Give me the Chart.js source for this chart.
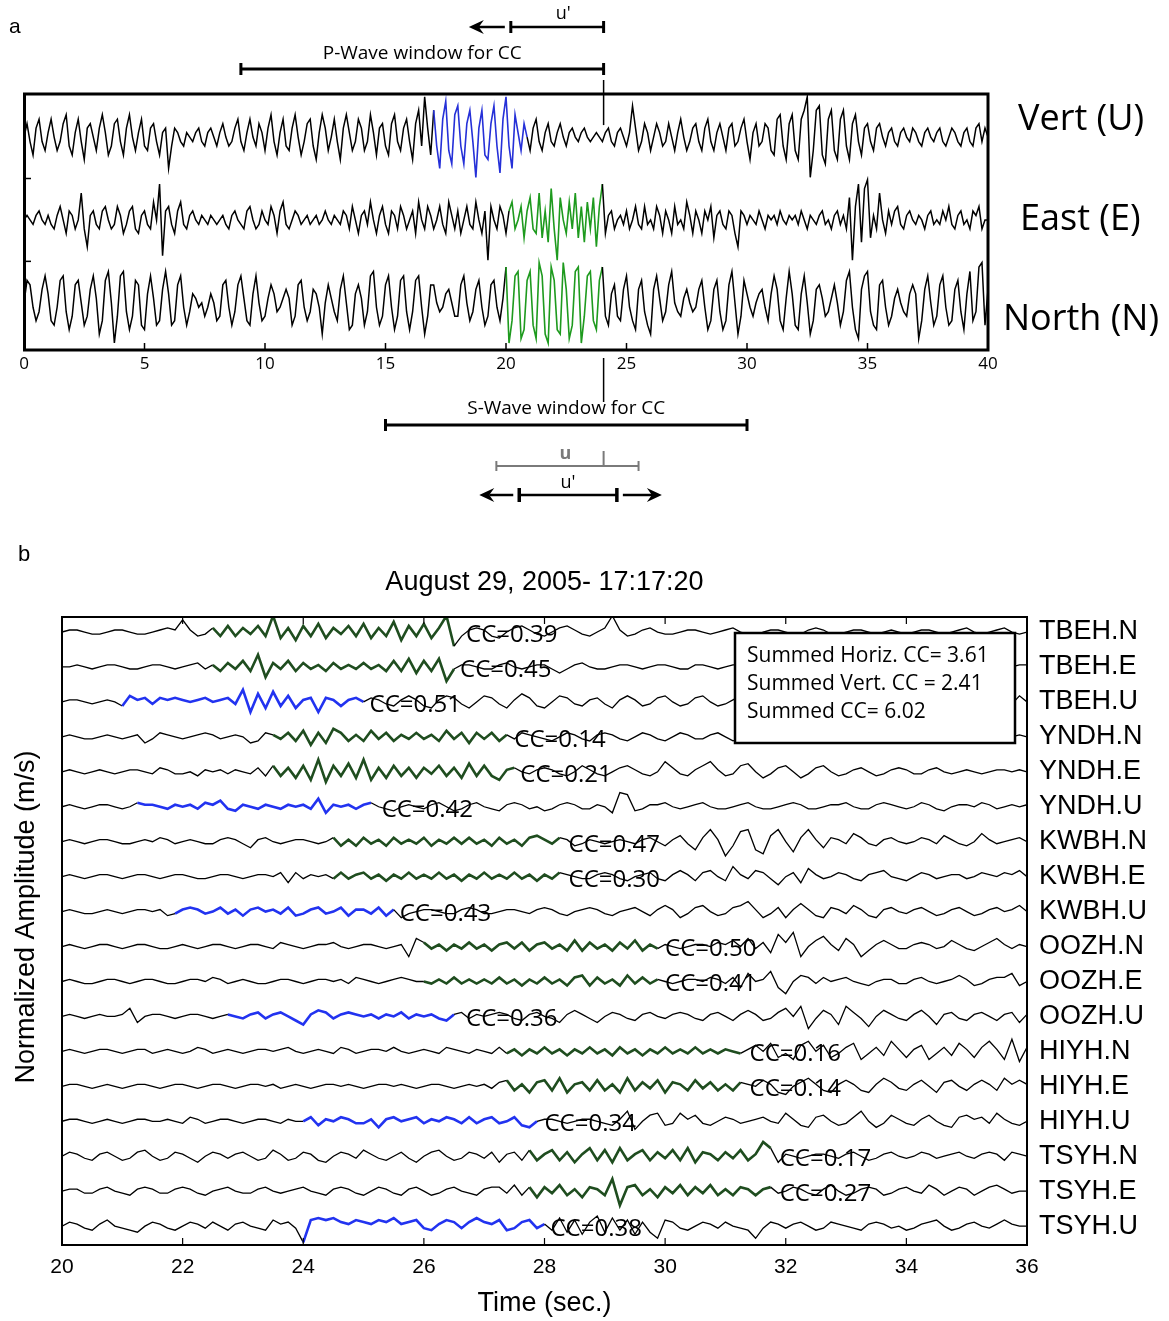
<!DOCTYPE html>
<html><head><meta charset="utf-8">
<script src="https://cdn.jsdelivr.net/npm/chart.js@4"></script>
<style>
body{margin:0;background:#fff;width:1169px;height:1321px;overflow:hidden;position:relative}
canvas{position:absolute;left:0}
</style></head>
<body>
<canvas id="ca" width="1169" height="530" style="top:0"></canvas>
<canvas id="cb" width="1169" height="791" style="top:530px"></canvas>
<script>
// ---------------- Panel a data (0..40 s, 0.125 s samples) ----------------
const aTicks = [0,5,10,15,20,25,30,35,40];
const aComponents = ['Vert (U)','East (E)','North (N)'];
const aWinStart = [17.0, 20.05, 20.0];
const aWinEnd = [20.9, 24.05, 24.05];
const aWinColor = ['#2530d8','#1e9a1e','#1e9a1e'];
const pWave = [9.0, 24.05];
const sWave = [15.0, 30.0];
const uGray = [19.6, 25.5];
const uPrimeBottom = [20.55, 24.6];
const uPrimeTop = [20.2, 24.05];
const pickTime = 24.05;
const vertU = [
0,3,-1,-4,2,4,-1,-3,
1,4,0,-3,-1,3,5,-2,
-4,1,4,-1,-5,2,3,0,
-3,2,5,1,-4,-2,3,4,
-1,-4,2,5,0,-3,1,4,
-2,-3,2,3,-1,-4,1,2,
-7,-2,2,1,-1,-2,1,0,
-1,1,2,-1,-2,1,2,0,
-2,1,3,0,-2,-1,2,4,
-1,-3,1,4,0,-2,3,1,
-3,2,5,-1,-4,1,4,-2,
-3,2,5,0,-4,-1,3,4,
-2,-5,1,5,2,-3,0,4,
-1,-5,2,5,1,-3,-1,4,
2,-3,-1,5,1,-4,2,3,
-2,-4,3,5,-1,-3,2,4,
-1,-5,3,6,-2,9,2,-4,
6,-2,-7,4,8,-3,-6,5,
7,-2,-6,3,6,-1,-9,2,
6,-4,-5,3,7,-2,-8,4,
9,-2,-7,5,1,-3,3,0,
-3,2,4,-1,-3,1,3,-1,
-2,1,3,0,-2,1,2,0,
-1,1,2,0,-1,0,1,0,
-1,1,2,-1,-2,1,2,0,
-2,1,7,2,-3,-1,3,1,
-3,0,3,1,-2,-1,3,0,
-3,1,4,0,-3,-1,2,3,
-1,-3,2,4,-1,-3,1,3,
0,-3,2,3,-2,-1,2,4,
-1,-5,1,3,-2,-1,3,2,
-3,-4,4,5,-2,-5,3,5,
-3,-5,4,6,9,-9,-3,6,
7,-4,-6,4,6,-3,-5,4,
6,-2,-5,3,5,-1,-4,2,
3,-1,-3,2,3,0,-2,1,
2,-1,-2,1,2,0,-1,2,
1,-1,-2,1,2,0,-1,1,
2,-1,-2,0,2,1,-1,-2,
1,2,-1,-2,2,3,-1,2,
0];
const eastE = [
0,1,0,-1,1,2,0,-1,
1,-1,-2,1,3,0,-3,2,
1,-2,0,6,-2,-6,1,2,
-1,-2,2,3,0,-2,-1,3,
1,-3,-1,2,3,-2,-3,1,
2,-1,-2,4,0,8,-8,2,
3,-1,-3,2,4,-1,-2,1,
2,0,-1,1,0,-1,1,0,
-1,0,1,-1,-2,1,2,0,
-1,-2,2,3,0,-2,-1,2,
0,-1,3,1,-3,2,4,-1,
-2,0,2,1,-1,0,1,-1,
0,1,-1,0,2,0,-1,1,
0,-1,2,1,-2,3,0,-3,
1,2,-1,4,0,-3,1,3,
-1,-3,2,1,-2,3,1,-2,
0,2,-3,4,0,-2,3,1,
-2,0,3,-1,-3,4,1,-2,
2,-3,0,3,-1,-2,4,0,
-3,2,-9,3,0,-2,3,1,
-3,2,4,-2,0,3,-4,2,
5,-2,-3,6,-4,2,-5,7,
-2,-9,5,0,-3,4,-2,6,
-4,3,-5,4,-2,5,-6,3,
8,-3,1,2,-2,0,1,-1,
2,-2,0,3,-1,-2,3,-1,
0,-2,3,1,-3,2,0,-3,
3,-1,0,-2,4,1,-3,2,
0,-3,2,0,3,-4,1,2,
-1,-2,2,1,-3,-6,2,1,
-1,1,0,-1,2,0,-2,1,
0,1,-1,2,0,-1,1,0,
1,-1,2,0,-2,1,0,-1,
1,2,-1,0,-2,1,2,-1,
1,-2,5,-9,3,8,-5,7,
9,-4,1,-2,6,0,-3,2,
-1,2,3,-1,-2,1,2,0,
-1,1,0,-2,1,2,-1,0,
-1,2,0,3,-1,-2,1,2,
-1,0,-2,2,1,3,-2,0,
0];
const northN = [
0,5,4,-1,-4,-2,3,6,
2,-4,-5,-1,5,6,-2,-6,
-3,4,5,0,-5,-3,3,6,
1,-7,-4,5,7,0,-9,-3,
6,7,-2,-6,-3,5,4,-5,
-6,2,6,1,-5,-4,3,7,
2,-5,-4,4,6,-1,-5,-2,
2,1,-1,0,-3,-1,2,0,
-4,-3,4,5,-1,-5,-2,4,
6,1,-4,-5,2,6,0,-4,
-3,1,4,2,-2,-1,1,3,
1,-5,-3,4,5,-1,-4,-2,
3,2,-1,-7,0,4,1,-2,
-4,3,6,0,-6,-5,2,4,
1,-5,-2,6,7,-1,-5,-3,
4,6,-1,-6,-3,5,6,-2,
-6,-2,5,6,-1,-7,-3,4,
4,0,-2,-1,2,3,0,-3,
-3,4,6,0,-4,-2,3,5,
-1,-5,-3,4,5,-1,-4,1,
8,-9,-4,6,7,-8,-6,5,
7,-5,-8,9,6,-7,-9,8,
5,-6,-7,9,3,-8,-5,7,
8,-9,-3,6,7,-4,-6,5,
8,-3,-5,2,4,-3,-4,3,
6,-1,-4,-6,3,5,-2,-5,
-7,3,6,1,-4,-2,4,7,
0,-2,-3,1,3,0,-2,-1,
3,5,-1,-6,-4,3,5,-2,
-6,-4,4,7,0,-7,-3,5,
2,-1,-3,0,2,3,-1,-4,
2,6,3,-4,-6,1,7,2,
-5,-6,2,6,0,-7,-4,3,
4,1,-3,-2,1,4,0,-5,
-2,5,7,-1,-6,-8,3,6,
7,-2,-5,-6,4,5,-1,-5,
-3,1,3,0,-2,-3,2,4,
2,-8,-4,3,6,0,-5,-3,
4,6,-1,-5,-4,3,5,-2,
-6,2,7,-4,-2,8,9,-5,
3];
const aTraces = [vertU, eastE, northN];

// ---------------- Panel b data (20..36 s, 0.125 s samples) ----------------
const bTitle = 'August 29, 2005- 17:17:20';
const bTicks = [20,22,24,26,28,30,32,34,36];
const stations = ['TBEH.N','TBEH.E','TBEH.U','YNDH.N','YNDH.E','YNDH.U','KWBH.N','KWBH.E','KWBH.U','OOZH.N','OOZH.E','OOZH.U','HIYH.N','HIYH.E','HIYH.U','TSYH.N','TSYH.E','TSYH.U'];
const ccValues = [0.39,0.45,0.51,0.14,0.21,0.42,0.47,0.30,0.43,0.50,0.41,0.36,0.16,0.14,0.34,0.17,0.27,0.38];
const winStart = [22.5,22.5,21.0,23.5,23.5,21.2,24.5,24.5,21.8,26.0,26.0,22.7,27.3,27.3,24.0,27.7,27.7,24.0];
const winEnd = [26.6,26.5,25.0,27.4,27.5,25.2,28.3,28.3,25.5,29.9,29.9,26.6,31.3,31.3,27.9,31.8,31.8,28.0];
const summedHoriz = 3.61, summedVert = 2.41, summedTotal = 6.02;
const tbehN = [0,1,1,0,-1,-1,0,1, 1,0,-1,-1,0,1,2,1, 6,1,-2,-1,2,-2,3,-2, 2,-1,3,-2,8,-3,2,-4, 3,-2,4,-3,2,-1,3,-2, 4,-3,2,-2,5,-4,3,-2, 4,-3,2,8,-7,-2,1,2, 1,-2,-3,0,2,3,1,-1, -2,0,2,3,1,-1,-2,0, 2,8,1,-2,-1,1,2,0, -1,-1,0,1,1,0,-1,0, 1,2,0,-1,-2,0,1,1, 0,-1,-1,1,2,1,-1,-1, 0,1,1,0,-1,0,1,0, -1,0,1,1,0,-1,0,1, 2,0,-1,0,1,2,0,-1, 0];
const tbehE = [0,0,1,0,-1,0,1,1, 0,-1,-1,0,1,1,0,-1, 0,1,2,-1,1,-2,2,-1, 3,-2,6,-5,2,-1,3,-2, 2,-1,1,-2,2,-1,1,-1, 2,-1,1,-2,3,-2,4,-3, 3,-2,4,-7,-1,1,1,0, -1,-1,1,2,0,-1,0,1, 1,-1,-3,-1,1,2,0,-1, -1,0,1,1,0,-1,0,1, 1,0,-1,-1,1,1,0,-1, 0,1,1,0,-1,-1,0,1, 1,0,-1,0,1,1,0,-1, -1,0,1,1,0,-1,0,1, 1,0,-1,-1,0,1,1,0, -1,0,1,2,1,-1,0,1, 1];
const tbehU = [0,1,1,0,-1,0,1,0, -2,3,1,2,-1,2,1,2, 1,0,1,2,0,1,2,-1, 6,-5,4,-3,5,-2,3,-3, 1,2,-5,2,1,-2,1,2, 0,2,1,-1,-2,1,3,1, -2,-3,1,3,2,-1,-3,0, 3,2,-1,-3,1,4,2,-2, -3,0,3,2,-1,-2,1,2, -1,-3,1,3,1,-2,-1,2, 3,0,-2,-1,2,3,0,-2, -1,1,3,1,-2,-1,2,2, -1,-2,1,3,1,-2,-1,1, 2,0,-2,-1,1,2,1,-1, -2,0,2,1,-1,-2,1,2, 1,-1,-2,1,2,1,-1,3, 0];
const yndhN = [0,1,0,-1,-1,0,1,0, -1,0,1,-3,-1,2,1,0, -1,0,1,2,1,-1,0,1, 0,-3,-2,2,1,-1,2,-2, 3,-4,2,-3,4,2,-2,1, -2,3,-1,2,-2,1,-1,2, -1,1,-2,3,-1,2,-3,2, -1,2,-2,1,-1,2,1,0, -1,-2,0,2,1,-1,-2,1, 2,1,-1,-2,0,2,1,-1, -2,0,2,1,-1,-1,1,2, 0,-2,-1,1,2,0,-1,-2, 1,2,0,-1,-1,1,2,0, -1,-2,1,1,-1,2,0,-1, -2,1,2,0,-1,1,2,0, -1,0,1,2,0,-1,0,1, 0];
const yndhE = [0,1,0,-1,0,1,0,-1, 0,1,1,0,-1,2,1,-1, -1,0,-2,1,0,1,-1,1, 0,-1,2,-2,3,-2,2,-3, 3,-4,6,-5,3,-2,4,-3, 6,-4,2,-3,3,-2,2,-3, 2,-1,3,-2,2,-3,4,-2, 3,-2,-4,1,2,0,-1,1, 2,1,-1,-2,0,3,1,-1, -2,0,2,3,1,-1,-2,0, 5,2,-1,-2,1,3,5,1, -2,-1,3,4,0,-3,-1,2, 3,0,-3,-1,2,3,0,-2, -1,1,2,0,-2,-1,1,2, 1,-1,-1,1,2,0,-1,0, 1,0,-1,0,1,1,0,1, 0];
const yndhU = [0,1,0,-1,0,1,1,0, -1,0,2,1,1,0,-1,1, 0,1,-1,2,1,3,-1,-2, 1,0,-1,1,0,-1,1,0, 1,-1,4,-3,1,0,1,-1, 1,2,0,-1,-2,0,1,0, -1,1,2,0,-2,-1,1,2, 0,-1,-2,1,2,1,-1,0, -2,-1,1,2,1,-1,-1,1, 0,-3,7,6,-2,-1,1,1, 2,0,-1,0,1,2,0,-1, -1,0,1,2,0,-1,-1,0, 1,2,1,-1,-1,0,1,1, 2,0,-1,-1,1,2,1,0, -1,0,2,1,-1,-2,0,1, 1,0,2,1,-1,0,1,0, 1];
const kwbhN = [0,1,0,-1,0,1,1,0, -1,-1,0,1,0,2,1,-1, 0,1,0,-1,-1,1,2,1, -1,-3,1,2,0,-1,0,1, 1,0,-1,0,2,-2,1,-2, 2,-1,1,-2,2,-1,1,-1, 2,-2,1,-1,2,-1,2,-1, 1,-2,2,-1,1,-2,2,3, 1,-1,2,1,-2,-1,1,0, -1,0,1,0,-1,1,2,0, -2,1,3,-1,-4,2,6,1, -7,-2,5,6,-4,-6,3,6, 0,-5,2,6,1,-3,2,1, -1,4,2,-1,-2,1,2,0, -1,0,2,1,-1,3,1,-1, -2,0,4,1,-1,0,1,2, 0];
const kwbhE = [0,1,0,-1,0,1,1,0, -1,0,1,1,0,-1,0,1, 1,0,-1,-1,0,1,1,0, -1,0,1,1,0,2,-3,2, -1,1,0,1,-1,2,-1,1, 2,-1,1,-2,1,-1,2,-1, 1,-1,2,-1,1,-2,1,-1, 2,-1,1,-1,2,-1,1,-2, 1,-1,2,1,0,-1,-1,1, 2,1,-1,-2,0,1,2,-1, -2,1,3,1,-2,2,3,0, -2,5,1,-1,3,2,-1,-4, 0,2,-3,4,1,-1,0,2, 1,-1,-2,1,2,3,0,-1, -2,0,2,1,-1,0,1,1, -1,0,2,1,0,2,1,3, 0];
const kwbhU = [0,1,0,-1,-1,0,1,0, -1,0,1,1,0,1,-2,-1, 1,2,1,-1,0,2,-1,1, -2,1,2,0,1,-1,2,-2, -1,1,2,-1,0,2,-2,1, 1,-1,2,-2,1,-3,-1,0, 1,1,0,-1,-1,1,2,1, -1,-1,0,1,1,0,-1,1, 2,1,-1,-2,0,1,2,1, -1,-2,0,1,2,0,-2,1, 3,1,-3,-1,2,3,0,-2, -1,2,3,5,1,-3,-1,2, -3,1,4,1,-2,-3,2,1, -1,3,1,-2,-3,1,2,0, -1,1,2,0,-2,-1,1,2, 0,-2,-1,1,2,0,1,3, 0];
const oozhN = [0,1,0,-1,0,1,1,0, -1,0,1,1,0,-1,-1,0, 1,0,-1,0,1,1,0,-1, 0,1,1,0,-1,2,1,0, -1,0,1,1,2,0,-1,0, 1,1,0,-1,0,1,-5,4, 2,-1,1,-2,1,-1,2,-1, 1,-2,1,2,-1,2,-2,1, 2,-1,1,-2,3,-2,2,-1, 1,-2,2,-1,3,-2,1,-1, 1,0,-1,0,1,1,0,2, 1,3,0,4,-1,2,-3,6, 2,7,-5,0,3,5,1,-2, 4,1,-5,-2,1,3,1,-1, -1,1,2,1,-1,0,3,1, -1,-2,0,2,4,1,-1,1, 0];
const oozhE = [0,1,0,-1,-1,0,1,1, 0,-1,0,1,1,0,-1,-1, 0,1,1,0,2,1,-1,0, 1,0,-1,-1,0,1,1,0, -1,0,1,1,0,1,-1,2, 1,0,-1,0,1,2,1,0, 0,-1,1,-1,2,-1,1,-1, 1,-1,2,-1,1,-2,1,-1, 2,-1,1,-2,2,3,-2,2, -1,1,-2,3,-1,2,-1,1, 0,-1,0,1,1,0,2,1, -1,2,-3,4,0,1,5,-3, -6,0,3,2,-1,2,0,1, 2,0,-1,-2,0,1,1,-1, -1,1,2,0,-1,0,1,3, 1,-2,-1,1,2,2,4,-2, 0];
const oozhU = [0,1,0,-1,0,1,0,0, 1,4,-3,0,1,1,0,-1, 0,1,1,0,-1,0,1,0, -1,1,2,-1,1,2,0,-2, -4,1,3,2,-1,1,2,1, 0,1,-1,1,0,2,-1,1, 0,1,-1,-2,1,2,-1,1, 0,1,2,1,-1,-2,1,2, 0,-1,-3,1,3,1,-1,-3, 0,2,1,-1,-2,1,2,0, -1,1,2,1,-1,-2,1,2, 0,-2,1,3,1,-2,-1,2, 4,0,5,-6,-1,3,1,-4, 5,2,-1,-5,0,3,1,-1, -2,1,3,0,-4,1,2,-1, -2,1,2,0,-2,1,2,-3, 1];
const hiyhN = [0,1,0,-1,0,1,1,0, -1,0,1,1,-1,0,1,0, -1,0,2,1,-1,0,1,0, -1,0,1,1,0,1,2,0, -1,0,1,0,-1,2,1,-1, 0,1,1,0,2,0,-1,0, 1,0,-1,2,1,0,-1,1, 0,-1,2,-1,1,-2,1,-1, 2,-1,1,-2,1,-1,2,-1, 1,-2,2,-1,1,-2,1,-1, 2,-1,1,-1,2,-1,1,-1, 1,0,-1,1,3,0,4,-3, -1,-4,3,5,0,3,-3,-1, 2,4,-4,-1,2,-2,5,1, -3,1,3,-4,-1,2,-2,4, 1,-3,2,5,1,-4,6,-5, 2];
const hiyhE = [0,1,1,0,-1,0,1,0, -1,0,1,1,0,-1,0,1, 1,0,-1,0,1,1,0,-1, 0,1,1,0,1,-1,0,1, 0,-1,0,1,1,0,1,0, -1,0,1,1,0,1,0,-1, 0,1,1,0,-1,0,1,0, 1,-1,2,3,-2,1,-3,2, 3,-2,4,-3,1,2,-2,3, -2,1,-3,4,-2,2,-1,3, -3,2,1,-2,3,-1,2,-2, 1,-2,2,1,0,3,1,-3, -4,0,2,4,1,-2,-3,1, 3,1,-2,-3,1,4,2,-1, -2,1,3,0,-3,2,3,0, -2,1,3,1,-2,4,1,3, 1];
const hiyhU = [0,1,1,0,-1,0,1,0, -1,0,1,1,0,0,1,0, -1,2,1,-1,0,1,1,0, -1,0,1,1,0,-1,1,0, 0,2,-2,1,0,2,1,-1, -1,1,-3,1,2,0,1,2, -1,1,0,2,1,-1,2,-1, 1,2,-1,0,2,-2,-3,0, 1,1,0,-1,0,1,1,0, -1,-2,1,5,-4,0,3,4, -2,-1,4,1,3,-1,-2,0, 2,1,-1,0,1,2,0,-1, 4,1,-2,-3,2,3,0,-2, -1,2,5,0,-3,-1,3,1, -1,-2,1,3,0,-2,-3,2, 3,1,2,-1,4,1,-1,-2, 0];
const tsyhN = [0,2,1,-1,-2,1,2,0, -2,-1,2,3,0,-2,-1,2, 1,-1,-3,0,2,1,-1,1, 2,0,-2,-1,3,1,-2,-1, 2,1,-2,-3,0,2,1,-1, 3,1,-1,-2,0,2,-1,-3, 0,2,3,0,-2,-1,2,1, -1,2,-3,1,2,-2,3,-2, 1,3,-2,2,-3,1,4,-2, 3,-3,4,-2,1,3,-2,2, -1,3,-2,4,-3,2,1,-2, 2,-1,3,-2,1,7,4,-3, 1,0,-1,0,1,1,0,-1, 1,2,0,-2,-1,1,2,0, -1,0,2,1,-1,0,1,2, 0,-1,1,2,1,-2,2,1, 0];
const tsyhE = [0,1,1,-1,-1,1,2,0, -1,-2,1,2,1,-1,-1,1, 2,1,-1,-2,0,1,2,0, -1,-1,1,2,0,-1,0,1, 2,0,-1,-2,1,2,1,-1, -2,0,2,1,-1,-2,1,2, 0,-2,-1,1,2,0,-1,-2, 1,2,2,-1,3,-2,2,-3, 2,-1,3,-2,1,-3,2,1, -2,6,-7,2,3,-2,1,-3, 2,-1,3,-2,2,-1,3,-2, 1,-2,2,1,-2,1,2,-1, 0,2,1,-1,-2,1,3,0, -2,-1,1,2,1,-2,-1,1, 2,0,-1,3,1,-2,0,2, 1,-2,0,2,3,1,-1,0, 0];
const tsyhU = [0,2,1,-1,-2,1,3,0, -1,-2,-3,0,2,1,-1,-2, 0,2,1,-1,2,0,-2,1, 2,0,-1,-2,3,1,2,-1, -8,3,4,3,4,2,1,3, 2,1,3,2,4,1,2,3, -1,-2,1,3,2,-1,2,4, 2,1,3,-2,-1,2,3,-1, 1,-2,4,-3,3,-4,2,5, -3,4,-2,3,-4,2,-3,-6, 3,2,-1,-2,0,2,1,-1, 2,0,-1,-2,-6,-1,2,1, -1,1,2,0,-2,-1,2,1, 0,-1,-2,1,2,1,-1,0, -2,-1,1,2,3,0,-2,-1, 1,2,0,-1,1,3,1,0, 0];
const bTraces = [tbehN,tbehE,tbehU,yndhN,yndhE,yndhU,kwbhN,kwbhE,kwbhU,oozhN,oozhE,oozhU,hiyhN,hiyhE,hiyhU,tsyhN,tsyhE,tsyhU];
const bWinColor = ['#1f4d1f','#1f4d1f','#2233f0','#1f4d1f','#1f4d1f','#2233f0','#1f4d1f','#1f4d1f','#2233f0','#1f4d1f','#1f4d1f','#2233f0','#1f4d1f','#1f4d1f','#2233f0','#1f4d1f','#1f4d1f','#2233f0'];

// ---------------- helpers ----------------
const MY = "'Open Sans', sans-serif";
const HV = "'Liberation Sans', Arial, sans-serif";
function toPoints(arr, t0, dt, off, gain){ return arr.map((v,k)=>({x:t0+k*dt, y:off-gain*v})); }
function seg(ws, we, col, wIn, wOut){
  const inside = c => c.p0.parsed.x >= ws-1e-6 && c.p1.parsed.x <= we+1e-6;
  return { borderColor: c => inside(c) ? col : '#000', borderWidth: c => inside(c) ? wIn : wOut };
}
function ln(ctx,x1,y1,x2,y2){ ctx.beginPath(); ctx.moveTo(x1,y1); ctx.lineTo(x2,y2); ctx.stroke(); }
function arrowHead(ctx,x,y,dir){ ctx.beginPath(); ctx.moveTo(x,y); ctx.lineTo(x-dir*15,y-7); ctx.lineTo(x-dir*10,y); ctx.lineTo(x-dir*15,y+7); ctx.closePath(); ctx.fill(); }

// ---------------- Panel a chart ----------------
const gainA = 0.054;
const dsA = aTraces.map((tr,i)=>({
  data: toPoints(tr, 0, 0.125, i, gainA),
  borderColor:'#000', borderWidth:1.5, pointRadius:0, tension:0,
  segment: seg(aWinStart[i], aWinEnd[i], aWinColor[i], 1.6, 1.5)
}));
const plugA = {
  id:'annA',
  afterDatasetsDraw(chart){
    const {ctx, chartArea:ca, scales:{x,y}} = chart;
    ctx.save();
    ctx.strokeStyle='#000'; ctx.fillStyle='#000';
    ctx.lineWidth=3; ctx.strokeRect(ca.left+0.5, ca.top, ca.right-ca.left-0.5, ca.bottom-ca.top);
    ctx.lineWidth=1.5;
    aTicks.forEach(t=>{ if(t>0&&t<40){ const px=x.getPixelForValue(t); ln(ctx,px,ca.bottom,px,ca.bottom-7);} });
    [0.5,1.5].forEach(v=>{ const py=y.getPixelForValue(v); ln(ctx,ca.left,py,ca.left+7,py); });
    const pk = x.getPixelForValue(pickTime);
    ctx.lineWidth=1.5; ln(ctx,pk,ca.top-14,pk,y.getPixelForValue(0)-12);
    ln(ctx,pk,ca.bottom+8,pk,ca.bottom+52);
    const pY=69; ctx.lineWidth=3;
    ln(ctx,x.getPixelForValue(pWave[0]),pY,x.getPixelForValue(pWave[1]),pY);
    ln(ctx,x.getPixelForValue(pWave[0]),pY-6,x.getPixelForValue(pWave[0]),pY+6);
    ln(ctx,x.getPixelForValue(pWave[1]),pY-6,x.getPixelForValue(pWave[1]),pY+6);
    ctx.font='19px '+MY; ctx.textAlign='center'; ctx.textBaseline='middle';
    ctx.fillText('P-Wave window for CC',(x.getPixelForValue(pWave[0])+x.getPixelForValue(pWave[1]))/2,54);
    const tY=27, t0=x.getPixelForValue(uPrimeTop[0]), t1=x.getPixelForValue(uPrimeTop[1]);
    ctx.lineWidth=2.5; ln(ctx,t0,tY,t1,tY);
    ctx.lineWidth=3; ln(ctx,t0,tY-6,t0,tY+6); ln(ctx,t1,tY-6,t1,tY+6);
    ctx.lineWidth=2.5; ln(ctx,t0-6,tY,t0-34,tY); arrowHead(ctx,t0-42,tY,-1);
    ctx.font='18px '+MY; ctx.fillText("u'",(t0+t1)/2+6,14);
    const sY=425, s0=x.getPixelForValue(sWave[0]), s1=x.getPixelForValue(sWave[1]);
    ctx.lineWidth=3; ln(ctx,s0,sY,s1,sY); ln(ctx,s0,sY-6,s0,sY+6); ln(ctx,s1,sY-6,s1,sY+6);
    ctx.font='19px '+MY; ctx.fillText('S-Wave window for CC',(s0+s1)/2,409);
    const gY=466, g0=x.getPixelForValue(uGray[0]), g1=x.getPixelForValue(uGray[1]);
    ctx.strokeStyle='#7a7a7a'; ctx.fillStyle='#7a7a7a'; ctx.lineWidth=2;
    ln(ctx,g0,gY,g1,gY); ln(ctx,g0,gY-5,g0,gY+5); ln(ctx,g1,gY-5,g1,gY+5); ln(ctx,pk,gY-15,pk,gY);
    ctx.font='bold 18px '+MY; ctx.fillText('u',(g0+g1)/2-2,454);
    ctx.strokeStyle='#000'; ctx.fillStyle='#000';
    const bY=495, b0=x.getPixelForValue(uPrimeBottom[0]), b1=x.getPixelForValue(uPrimeBottom[1]);
    ctx.lineWidth=2.5; ln(ctx,b0,bY,b1,bY);
    ctx.lineWidth=3.5; ln(ctx,b0,bY-7,b0,bY+7); ln(ctx,b1,bY-7,b1,bY+7);
    ctx.lineWidth=2.5; ln(ctx,b0-6,bY,b0-30,bY); arrowHead(ctx,b0-40,bY,-1);
    ln(ctx,b1+6,bY,b1+36,bY); arrowHead(ctx,b1+45,bY,1);
    ctx.font='18px '+MY; ctx.fillText("u'",(b0+b1)/2,483);
    ctx.font='21px '+HV; ctx.textAlign='left'; ctx.fillText('a',9,27);
    ctx.font='36px '+MY; ctx.textAlign='left';
    ctx.fillText(aComponents[0], ca.right+30, 120);
    ctx.fillText(aComponents[1], ca.right+32, 220);
    ctx.fillText(aComponents[2], ca.right+15, 320);
    ctx.restore();
  }
};
new Chart(document.getElementById('ca'), {
  type:'line',
  data:{datasets:dsA},
  options:{
    responsive:false, animation:false, events:[],
    layout:{padding:{left:24,top:94,right:181,bottom:140}},
    plugins:{legend:{display:false},tooltip:{enabled:false}},
    scales:{
      x:{type:'linear',min:0,max:40,afterFit:s=>{s.height=40;},
         afterBuildTicks:s=>{s.ticks=aTicks.map(v=>({value:v}));},
         grid:{display:false,drawTicks:false},border:{display:false},
         ticks:{padding:4,color:'#000',font:{family:MY,size:17},autoSkip:false,maxRotation:0}},
      y:{type:'linear',display:false,min:-0.52,max:2.57,reverse:true}
    }
  },
  plugins:[plugA]
});

// ---------------- Panel b chart ----------------
const gainB = 0.058;
const dsB = bTraces.map((tr,i)=>({
  data: toPoints(tr, 20, 0.125, i, gainB),
  borderColor:'#000', borderWidth:1.3, pointRadius:0, tension:0,
  segment: seg(winStart[i], winEnd[i], bWinColor[i], 2.6, 1.3)
}));
const plugB = {
  id:'annB',
  afterDatasetsDraw(chart){
    const {ctx, chartArea:ca, scales:{x,y}} = chart;
    ctx.save();
    ctx.strokeStyle='#000'; ctx.fillStyle='#000';
    ctx.lineWidth=2; ctx.strokeRect(ca.left, ca.top, ca.right-ca.left, ca.bottom-ca.top);
    ctx.lineWidth=1.2;
    bTicks.forEach(t=>{ if(t>20&&t<36){ const px=x.getPixelForValue(t); ln(ctx,px,ca.bottom,px,ca.bottom-7); ln(ctx,px,ca.top,px,ca.top+7);} });
    ctx.font='24px '+MY; ctx.textAlign='left'; ctx.textBaseline='middle';
    ccValues.forEach((c,i)=>{ ctx.fillText('CC='+c.toFixed(2), x.getPixelForValue(winEnd[i])+6, y.getPixelForValue(i)+3); });
    const bx=ca.left+673, by=ca.top+16, bw=280, bh=110;
    ctx.fillStyle='#fff'; ctx.fillRect(bx,by,bw,bh);
    ctx.lineWidth=2.5; ctx.strokeRect(bx,by,bw,bh);
    ctx.fillStyle='#000'; ctx.font='21px '+MY;
    ctx.fillText('Summed Horiz. CC= '+summedHoriz.toFixed(2), bx+12, by+23);
    ctx.fillText('Summed Vert. CC = '+summedVert.toFixed(2), bx+12, by+51);
    ctx.fillText('Summed CC= '+summedTotal.toFixed(2), bx+12, by+79);
    ctx.font='27px '+HV; ctx.textAlign='center';
    ctx.fillText(bTitle,(ca.left+ca.right)/2,53);
    ctx.fillText('Time (sec.)',(ca.left+ca.right)/2,774);
    ctx.textAlign='left'; ctx.font='22px '+HV; ctx.fillText('b',18,25);
    ctx.save(); ctx.translate(27,387); ctx.rotate(-Math.PI/2); ctx.textAlign='center';
    ctx.font='27px '+HV; ctx.fillText('Normalized Amplitude (m/s)',0,0); ctx.restore();
    ctx.restore();
  }
};
new Chart(document.getElementById('cb'), {
  type:'line',
  data:{datasets:dsB},
  options:{
    responsive:false, animation:false, events:[],
    layout:{padding:{left:62,top:87,right:0,bottom:36}},
    plugins:{legend:{display:false},tooltip:{enabled:false}},
    scales:{
      x:{type:'linear',min:20,max:36,afterFit:s=>{s.height=40;},
         afterBuildTicks:s=>{s.ticks=bTicks.map(v=>({value:v}));},
         grid:{display:false,drawTicks:false},border:{display:false},
         ticks:{padding:10,color:'#000',font:{family:HV,size:21},autoSkip:false,maxRotation:0}},
      y:{type:'linear',display:false,min:-0.43,max:17.54,reverse:true},
      y2:{type:'linear',position:'right',min:-0.43,max:17.54,reverse:true,
         afterFit:s=>{s.width=142;},
         afterBuildTicks:s=>{s.ticks=stations.map((n,i)=>({value:i}));},
         grid:{display:false,drawTicks:false},border:{display:false},
         ticks:{padding:12,color:'#000',font:{family:HV,size:27},autoSkip:false,
                callback:(v,idx)=>stations[idx]}}
    }
  },
  plugins:[plugB]
});
</script>
</body></html>
